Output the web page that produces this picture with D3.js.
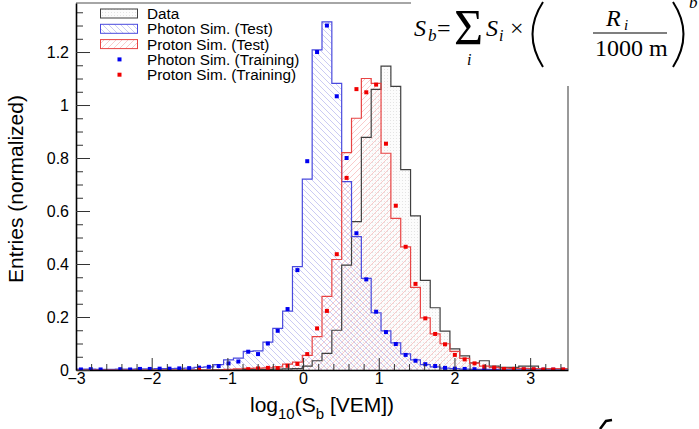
<!DOCTYPE html>
<html><head><meta charset="utf-8">
<script src="https://cdn.jsdelivr.net/npm/d3@7"></script>
<style>
body{margin:0;background:#fff}
svg{display:block}
text{font-family:"Liberation Sans",Arial,Helvetica,sans-serif}
.f text{font-family:"Liberation Serif","Times New Roman",serif}
</style>
</head><body>
<svg id="c" width="699" height="429"></svg>
<script>
// ---------------- DATA ----------------
const binLow = -3, binWidth = 0.13, binCount = 50;

// Data (black histogram)
const dataHist = [0,0,0,0,0,0,0,0,0,0, 0,0,0,0,0.001,0.001,0.001,0.002,0.002,0.002,
  0.003,0.004,0.005,0.015,0.035,0.063,0.15,0.396,0.56,0.878,
  1.059,1.147,1.07,0.756,0.582,0.338,0.235,0.147,0.08,0.053,
  0.027,0.035,0.015,0.01,0.01,0.015,0.015,0.005,0.005,0.005];

// Photon Sim. (Test) – blue histogram
const photonTest = [0.003,0.003,0.002,0.002,0.003,0.003,0.004,0.004,0.005,0.005,
  0.006,0.007,0.01,0.012,0.02,0.038,0.045,0.07,0.072,0.105,
  0.157,0.222,0.39,0.72,1.208,1.314,1.082,0.711,0.503,0.346,
  0.216,0.148,0.102,0.061,0.038,0.02,0.012,0.007,0.005,0.003,
  0.002,0.002,0.002,0.001,0.001,0.001,0.001,0.001,0.001,0.001];

// Proton Sim. (Test) – red histogram
const protonTest = [0,0,0,0,0,0,0,0,0,0, 0,0,0,0,0,0.002,0.004,0.006,0.007,0.008,
  0.012,0.022,0.03,0.055,0.126,0.278,0.417,0.82,0.95,1.10,
  1.082,0.818,0.572,0.465,0.312,0.197,0.136,0.099,0.07,0.044,
  0.026,0.015,0.01,0.007,0.006,0.006,0.005,0.005,0.005,0.005];

// Photon Sim. (Training) – blue markers (null = no marker)
const photonTrain = [0.002,0.003,0.002,null,0.003,0.002,0.004,0.004,0.005,0.005,
  0.006,0.007,0.009,0.012,0.015,0.025,0.032,0.069,0.06,0.10,
  0.148,0.23,0.377,0.788,1.20,1.30,1.033,0.80,0.516,0.342,
  0.22,0.143,0.098,0.057,0.035,0.022,0.015,0.008,0.005,0.004,
  0.003,0.002,0.002,0.001,0.001,0.001,0.001,0.001,0.001,0.001];

// Proton Sim. (Training) – red markers (null = no marker)
const protonTrain = [null,null,null,null,null,null,null,null,null,null,
  null,null,0.001,null,null,null,null,0.003,0.006,0.008,
  0.007,0.016,0.023,0.06,0.157,0.223,0.437,0.725,1.06,1.048,
  1.077,0.854,0.62,0.465,0.325,0.195,0.136,0.097,0.057,0.04,
  0.025,0.013,0.009,0.004,0.004,0.003,0.003,0.002,0.002,0.002];

const xMajorTicks = [-3,-2,-1,0,1,2,3];
const yMajorTicks = [0,0.2,0.4,0.6,0.8,1,1.2];
const legendLabels = ["Data","Photon Sim. (Test)","Proton Sim. (Test)","Photon Sim. (Training)","Proton Sim. (Training)"];

// ---------------- CHART ----------------
const svg = d3.select('#c');
const x = d3.scaleLinear().domain([-3, 3.5]).range([76, 568]);
const y = d3.scaleLinear().domain([0, 1.385]).range([370, 3]);

const defs = svg.append('defs');
function hatch(id, color, back){
  const p = defs.append('pattern').attr('id', id).attr('patternUnits','userSpaceOnUse')
    .attr('width',6).attr('height',6);
  const d = back ? 'M0,0L6,6M-1,5L1,7M5,-1L7,1' : 'M0,6L6,0M-1,1L1,-1M5,7L7,5';
  p.append('path').attr('d', d).attr('stroke',color).attr('stroke-width',0.7).attr('fill','none');
}
hatch('hBlue','#b4b4ee',true);
hatch('hRed','#f6b4b4',false);
const dp = defs.append('pattern').attr('id','hData').attr('patternUnits','userSpaceOnUse')
  .attr('width',3).attr('height',3);
dp.append('rect').attr('width',3).attr('height',3).attr('fill','#fcfcfc');
dp.append('rect').attr('width',1).attr('height',1).attr('fill','#e4e4e4');

defs.append('clipPath').attr('id','plot').append('rect')
  .attr('x',76).attr('y',3).attr('width',492).attr('height',367);

const edges = d3.range(binCount + 1).map(i => binLow + i * binWidth);
function stepPts(vals){
  const p = vals.map((v,i) => [edges[i], v]);
  p.push([edges[binCount], vals[binCount-1]]);
  return p;
}
const area = d3.area().curve(d3.curveStepAfter).x(d => x(d[0])).y0(y(0)).y1(d => y(d[1]));
const line = d3.line().curve(d3.curveStepAfter).x(d => x(d[0])).y(d => y(d[1]));

const plot = svg.append('g').attr('clip-path','url(#plot)');
const hists = [
  {vals: dataHist, fill:'url(#hData)', stroke:'#404040'},
  {vals: photonTest, fill:'url(#hBlue)', stroke:'#4a4ade'},
  {vals: protonTest, fill:'url(#hRed)', stroke:'#e84444'}
];
hists.forEach(h => plot.append('path').attr('d', area(stepPts(h.vals))).attr('fill', h.fill));
hists.forEach(h => plot.append('path').attr('d', line(stepPts(h.vals)))
  .attr('fill','none').attr('stroke', h.stroke).attr('stroke-width',1.2));

function markers(vals, color){
  plot.append('g').selectAll('rect').data(vals.map((v,i)=>({v,i})).filter(d => d.v !== null))
    .join('rect')
    .attr('x', d => x(edges[d.i] + binWidth/2) - 2)
    .attr('y', d => y(d.v) - 2)
    .attr('width',4).attr('height',4).attr('fill',color);
}
markers(photonTrain,'#0000f0');
markers(protonTrain,'#f00000');

// frame lines (top and right)
svg.append('line').attr('x1',76).attr('x2',568).attr('y1',3).attr('y2',3).attr('stroke','#888').attr('stroke-width',1.5);
svg.append('line').attr('x1',568).attr('x2',568).attr('y1',3).attr('y2',370).attr('stroke','#555').attr('stroke-width',1.2);

// axes
const fmt = d => d < 0 ? '\u2212' + Math.abs(d) : String(+d.toFixed(1));
const xMinor = d3.range(-3, 3.5001, 0.2).filter(v => Math.abs(v - Math.round(v)) > 1e-6);
const yMinor = d3.range(0, 1.38, 0.05).filter(v => Math.abs(v*5 - Math.round(v*5)) > 1e-6);

const gxm = svg.append('g').attr('transform','translate(0,370)')
  .call(d3.axisBottom(x).tickValues(xMinor).tickSizeInner(-6).tickSizeOuter(0).tickFormat(''));
gxm.select('.domain').remove();
const gx = svg.append('g').attr('transform','translate(0,370)')
  .call(d3.axisBottom(x).tickValues(xMajorTicks).tickSizeInner(-12).tickSizeOuter(0).tickPadding(3).tickFormat(fmt));
gx.select('.domain').attr('stroke','#000').attr('stroke-width',1.6);
gx.selectAll('text').attr('font-size',16).attr('fill','#000').attr('font-family','"Liberation Sans",Arial,sans-serif');

const gym = svg.append('g').attr('transform','translate(76,0)')
  .call(d3.axisLeft(y).tickValues(yMinor).tickSizeInner(-7).tickSizeOuter(0).tickFormat(''));
gym.select('.domain').remove();
const gy = svg.append('g').attr('transform','translate(76,0)')
  .call(d3.axisLeft(y).tickValues(yMajorTicks).tickSizeInner(-14).tickSizeOuter(0).tickPadding(7).tickFormat(fmt));
gy.select('.domain').attr('stroke','#000').attr('stroke-width',1.6);
gy.selectAll('text').attr('font-size',16).attr('fill','#000').attr('font-family','"Liberation Sans",Arial,sans-serif');
svg.selectAll('.tick line').attr('stroke','#333');

// axis titles
svg.append('text').attr('transform','translate(23,189) rotate(-90)').attr('text-anchor','middle')
  .attr('font-size',21).attr('fill','#000').text('Entries (normalized)');
const xt = svg.append('text').attr('x',250).attr('y',412).attr('font-size',21).attr('fill','#000');
xt.append('tspan').text('log');
xt.append('tspan').attr('font-size',15).attr('dy',7).text('10');
xt.append('tspan').attr('dy',-7).text('(S');
xt.append('tspan').attr('font-size',15).attr('dy',7).text('b');
xt.append('tspan').attr('dy',-7).text(' [VEM])');

// legend
const lg = svg.append('g');
const rowY = [13.5, 28.8, 44.1, 59.4, 74.7];
legendLabels.forEach((t,i) => {
  lg.append('text').attr('x',147).attr('y',rowY[i] + 5.5).attr('font-size',15.3).attr('fill','#000').text(t);
});
[['url(#hData)','#404040'],['url(#hBlue)','#4a4ade'],['url(#hRed)','#e84444']].forEach((s,i) => {
  lg.append('rect').attr('x',100.5).attr('y',rowY[i]-4.5).attr('width',37).attr('height',9)
    .attr('fill',s[0]).attr('stroke',s[1]).attr('stroke-width',1);
});
lg.append('rect').attr('x',117.5).attr('y',rowY[3]-2).attr('width',4).attr('height',4).attr('fill','#0000f0');
lg.append('rect').attr('x',117.5).attr('y',rowY[4]-2).attr('width',4).attr('height',4).attr('fill','#f00000');

// formula overlay
const f = svg.append('g').attr('class','f');
f.append('rect').attr('x',411).attr('y',0).attr('width',288).attr('height',86).attr('fill','#fff');
function ft(xx, yy, s, txt, it){
  f.append('text').attr('x',xx).attr('y',yy).attr('font-size',s)
    .attr('font-style', it ? 'italic' : 'normal').attr('fill','#000').text(txt);
}
ft(414, 36, 24, 'S', true);
ft(428, 41, 17, 'b', true);
ft(437, 36, 24, '=', false);
ft(454, 44, 50, 'Σ', false);
ft(467, 65, 16, 'i', true);
ft(486, 36, 24, 'S', true);
ft(499, 41, 16, 'i', true);
ft(510, 36, 24, '×', false);
ft(606, 26, 24, 'R', true);
ft(624, 30, 15, 'i', true);
ft(595, 56, 24, '1000 m', false);
ft(689, 8, 17, 'b', true);
f.append('line').attr('x1',593).attr('x2',667).attr('y1',33).attr('y2',33).attr('stroke','#000').attr('stroke-width',1.1);
f.append('path').attr('d','M543,2 Q522,34 543,67').attr('fill','none').attr('stroke','#000').attr('stroke-width',2);
f.append('path').attr('d','M673,2 Q694,34 673,67').attr('fill','none').attr('stroke','#000').attr('stroke-width',2);

// stray glyph fragment at bottom right
svg.append('path').attr('d','M600,429 L606,421 L612,420').attr('fill','none').attr('stroke','#000').attr('stroke-width',2.5);
</script>
</body></html>
